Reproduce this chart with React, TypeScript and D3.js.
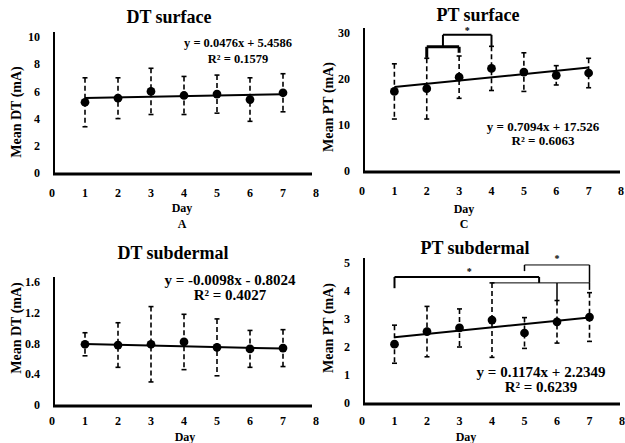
import React, { useEffect, useRef } from 'react';
import * as d3 from 'd3';

const days = [1, 2, 3, 4, 5, 6, 7];
const xTicks = [0, 1, 2, 3, 4, 5, 6, 7, 8];

// DT surface
const dtSurfMean = [5.2, 5.5, 6.0, 5.7, 5.8, 5.4, 5.9];
const dtSurfErr = [1.8, 1.5, 1.7, 1.4, 1.4, 1.6, 1.4];
const dtSurfTicks = [0, 2, 4, 6, 8, 10];
const dtSurfFit = [0.0476, 5.4586];
const dtSurfEq = ['y = 0.0476x + 5.4586', 'R² = 0.1579'];

// PT surface
const ptSurfMean = [17.3, 17.9, 20.4, 22.3, 21.5, 20.8, 21.3];
const ptSurfErr = [6.0, 6.6, 4.6, 4.8, 4.2, 2.1, 3.2];
const ptSurfTicks = [0, 10, 20, 30];
const ptSurfFit = [0.7094, 17.526];
const ptSurfEq = ['y = 0.7094x + 17.526', 'R² = 0.6063'];
// significance brackets: x1, x2, level, legs [day, end level]
const ptSurfBrackets = [
  { x1: 2, x2: 3, y: 27.0, legs: [[2, 24.6], [3, 25.7]] },
  { x1: 2.5, x2: 4, y: 29.6, legs: [[2.5, 27.0], [4, 27.1]] },
];
const ptSurfStars = [[3.25, 29.8]];

// DT subdermal
const dtSubMean = [0.79, 0.78, 0.79, 0.82, 0.75, 0.73, 0.74];
const dtSubErr = [0.15, 0.29, 0.49, 0.36, 0.37, 0.24, 0.24];
const dtSubTicks = [0, 0.4, 0.8, 1.2, 1.6];
const dtSubFit = [-0.0098, 0.8024];
const dtSubEq = ['y = -0.0098x - 0.8024', 'R² = 0.4027'];

// PT subdermal
const ptSubMean = [2.1, 2.55, 2.68, 2.96, 2.5, 2.9, 3.07];
const ptSubErr = [0.68, 0.9, 0.68, 1.33, 0.55, 0.76, 0.87];
const ptSubTicks = [0, 1, 2, 3, 4, 5];
const ptSubFit = [0.1174, 2.2349];
const ptSubEq = ['y = 0.1174x + 2.2349', 'R² = 0.6239'];
const ptSubBrackets = [
  { x1: 1, x2: 5.45, y: 4.5, legs: [[1, 4.1], [5.45, 4.29]] },
  { x1: 4, x2: 7, y: 4.29, legs: [[6, 3.66], [7, 4.04]] },
  { x1: 5, x2: 7, y: 4.93, legs: [[5, 4.71], [7, 4.29]] },
];
const ptSubStars = [[3.3, 4.58], [6.0, 5.05]];

const FONT = '"Liberation Serif", "Times New Roman", serif';

const panels = [
  {
    title: 'DT surface', yLabel: 'Mean DT (mA)', letter: 'A',
    mean: dtSurfMean, err: dtSurfErr, ticks: dtSurfTicks, fit: dtSurfFit, eq: dtSurfEq,
    brackets: [], bracketW: [], stars: [],
    x0: 52, x8: 316, y0: 173, yTop: 37, axisEnd: 312,
    titleX: 169, titleY: 23, labX: 16, labY: 112, dayX: 182, dayY: 212, letterY: 228,
    tickY: 197, eqX: 238, eqY: [47, 63], eqSize: 12.5,
  },
  {
    title: 'PT surface', yLabel: 'Mean PT (mA)', letter: 'C',
    mean: ptSurfMean, err: ptSurfErr, ticks: ptSurfTicks, fit: ptSurfFit, eq: ptSurfEq,
    brackets: ptSurfBrackets, bracketW: [3, 2], stars: ptSurfStars,
    x0: 362, x8: 621, y0: 171, yTop: 33, axisEnd: 620,
    titleX: 478, titleY: 21, labX: 328, labY: 107, dayX: 464, dayY: 213, letterY: 228,
    tickY: 195, eqX: 543, eqY: [131, 145], eqSize: 13,
  },
  {
    title: 'DT subdermal', yLabel: 'Mean DT (mA)', letter: '',
    mean: dtSubMean, err: dtSubErr, ticks: dtSubTicks, fit: dtSubFit, eq: dtSubEq,
    brackets: [], bracketW: [], stars: [],
    x0: 52, x8: 316, y0: 405, yTop: 282, axisEnd: 312,
    titleX: 173, titleY: 259, labX: 16, labY: 328, dayX: 185, dayY: 441, letterY: 0,
    tickY: 425, eqX: 230, eqY: [285, 300], eqSize: 15,
  },
  {
    title: 'PT subdermal', yLabel: 'Mean PT (mA)', letter: '',
    mean: ptSubMean, err: ptSubErr, ticks: ptSubTicks, fit: ptSubFit, eq: ptSubEq,
    brackets: ptSubBrackets, bracketW: [2, 1, 1], stars: ptSubStars,
    x0: 362, x8: 622, y0: 403, yTop: 263, axisEnd: 620,
    titleX: 475, titleY: 254, labX: 328, labY: 328, dayX: 466, dayY: 441, letterY: 0,
    tickY: 425, eqX: 541, eqY: [377, 392], eqSize: 15,
  },
];

const App = () => {
  const ref = useRef<SVGSVGElement>(null);

  useEffect(() => {
    document.body.style.margin = '0';
    const svg = d3.select(ref.current);
    svg.selectAll('*').remove();

    panels.forEach(p => {
      const g = svg.append('g');
      const x = d3.scaleLinear().domain([0, 8]).range([p.x0, p.x8]);
      const y = d3.scaleLinear().domain([0, d3.max(p.ticks) as number]).range([p.y0, p.yTop]);

      // title
      g.append('text').attr('x', p.titleX).attr('y', p.titleY).attr('text-anchor', 'middle')
        .attr('font-size', 18).attr('font-weight', 'bold').text(p.title);

      // axes
      g.append('line').attr('x1', p.x0 + 2).attr('x2', p.x0 + 2)
        .attr('y1', p.y0).attr('y2', p.yTop - 5).attr('stroke', '#000').attr('stroke-width', 2);
      g.append('line').attr('x1', p.x0 + 1).attr('x2', p.axisEnd)
        .attr('y1', p.y0 + 1).attr('y2', p.y0 + 1).attr('stroke', '#000').attr('stroke-width', 3);

      g.append('g').selectAll('text').data(p.ticks).join('text')
        .attr('x', p.x0 - 12).attr('y', d => y(d)).attr('dy', '0.35em')
        .attr('text-anchor', 'end').attr('font-size', 12).attr('font-weight', 'bold')
        .text(d => String(d));
      g.append('g').selectAll('text').data(xTicks).join('text')
        .attr('x', d => x(d)).attr('y', p.tickY)
        .attr('text-anchor', 'middle').attr('font-size', 12).attr('font-weight', 'bold')
        .text(d => String(d));

      g.append('text').attr('transform', `translate(${p.labX},${p.labY}) rotate(-90)`)
        .attr('text-anchor', 'middle').attr('dy', '0.35em').attr('font-size', 14).attr('font-weight', 'bold')
        .text(p.yLabel);
      g.append('text').attr('x', p.dayX).attr('y', p.dayY).attr('text-anchor', 'middle')
        .attr('font-size', 12).attr('font-weight', 'bold').text('Day');
      if (p.letter) {
        g.append('text').attr('x', p.dayX).attr('y', p.letterY).attr('text-anchor', 'middle')
          .attr('font-size', 12).attr('font-weight', 'bold').text(p.letter);
      }

      // brackets
      p.brackets.forEach((b, i) => {
        const w = p.bracketW[i];
        g.append('line').attr('x1', x(b.x1)).attr('x2', x(b.x2)).attr('y1', y(b.y)).attr('y2', y(b.y))
          .attr('stroke', '#000').attr('stroke-width', w);
        b.legs.forEach(([lx, ly]) => {
          g.append('line').attr('x1', x(lx)).attr('x2', x(lx)).attr('y1', y(b.y)).attr('y2', y(ly))
            .attr('stroke', '#000').attr('stroke-width', Math.max(w, 1.5));
        });
      });
      g.append('g').selectAll('text').data(p.stars).join('text')
        .attr('x', d => x(d[0])).attr('y', d => y(d[1])).attr('text-anchor', 'middle')
        .attr('font-size', 10).attr('font-weight', 'bold').text('*');

      // error bars
      const eb = g.append('g').attr('stroke', '#000').attr('stroke-width', 1.6);
      days.forEach((d, i) => {
        const m = p.mean[i], e = p.err[i];
        eb.append('line').attr('x1', x(d)).attr('x2', x(d)).attr('y1', y(m + e)).attr('y2', y(m - e))
          .attr('stroke-dasharray', '5,3');
        eb.append('line').attr('x1', x(d) - 2.5).attr('x2', x(d) + 2.5).attr('y1', y(m + e)).attr('y2', y(m + e));
        eb.append('line').attr('x1', x(d) - 2.5).attr('x2', x(d) + 2.5).attr('y1', y(m - e)).attr('y2', y(m - e));
      });

      // trend line
      const [a, c] = p.fit;
      g.append('path')
        .attr('d', d3.line<number>().x(d => x(d)).y(d => y(a * d + c))([1, 7]) as string)
        .attr('stroke', '#000').attr('stroke-width', 2).attr('fill', 'none');

      // markers
      g.append('g').selectAll('path').data(days).join('path')
        .attr('transform', (d, i) => `translate(${x(d)},${y(p.mean[i])})`)
        .attr('d', d3.symbol().type(d3.symbolCircle).size(60)() as string)
        .attr('fill', '#000');

      // equation
      g.append('g').selectAll('text').data(p.eq).join('text')
        .attr('x', p.eqX).attr('y', (d, i) => p.eqY[i]).attr('text-anchor', 'middle')
        .attr('font-size', p.eqSize).attr('font-weight', 'bold').text(d => d);
    });
  }, []);

  return (
    <svg ref={ref} width={625} height={443}
      style={{ position: 'absolute', left: 0, top: 0, background: '#fff', fontFamily: FONT }} />
  );
};

export default App;
